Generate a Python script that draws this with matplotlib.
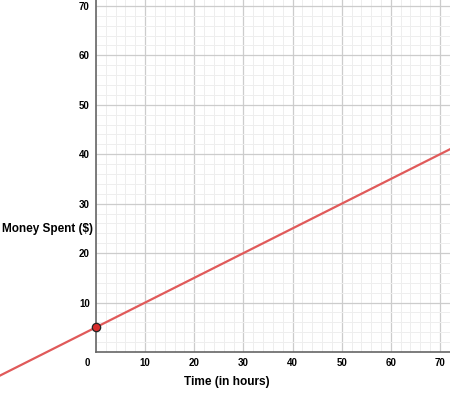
# Money spent over time: y = 0.5x + 5, starting point marked at x = 0

import numpy as np
from matplotlib import pyplot as plt
from matplotlib.ticker import MultipleLocator

plt.rcParams['font.family'] = ['Liberation Sans', 'DejaVu Sans']

# Data
hours = [-20, 75]
money = [-5, 42.5]
start_hour = [0]
start_money = [5]
x_ticks = [10, 20, 30, 40, 50, 60, 70]
y_ticks = [10, 20, 30, 40, 50, 60, 70]

fig = plt.figure(figsize=(4.5, 3.98), dpi=100)
ax = fig.add_axes([96/450, 46/398, 354/450, 352/398])
ax.set_xlim(0, 72.04)
ax.set_ylim(0, 71.2)

# grid: major every 10, minor every 2
ax.xaxis.set_minor_locator(MultipleLocator(2))
ax.yaxis.set_minor_locator(MultipleLocator(2))
ax.set_xticks(x_ticks)
ax.set_yticks(y_ticks)
ax.grid(which='major', color='#cccccc', linewidth=0.9)
ax.grid(which='minor', color='#eeeeee', linewidth=0.7)
ax.set_axisbelow(True)
ax.tick_params(which='both', length=0)
ax.tick_params(axis='x', pad=4)
ax.tick_params(axis='y', pad=4.5)
for lab in ax.get_xticklabels() + ax.get_yticklabels():
    lab.set_fontweight('bold')
    lab.set_fontsize(7)

for side in ['top', 'right']:
    ax.spines[side].set_visible(False)
for side in ['left', 'bottom']:
    ax.spines[side].set_color('#666666')
    ax.spines[side].set_linewidth(1.2)

# origin label
ax.text(-1.8, -1.3, '0', ha='center', va='top', fontsize=7, fontweight='bold')

# line extends outside the grid area
ax.plot(hours, money, color='#e05a5a', linewidth=1.6, clip_on=False, zorder=3)
ax.plot(start_hour, start_money, 'o', color='#d62b2b', markeredgecolor='#222222',
        markersize=6, markeredgewidth=0.9, clip_on=False, zorder=4)

fig.text(227/450, 1 - 382/398, 'Time (in hours)', ha='center', va='center',
         fontsize=8.6, fontweight='bold')
fig.text(2/450, 1 - 229/398, 'Money Spent ($)', ha='left', va='center',
         fontsize=8.5, fontweight='bold')

plt.savefig('out.png', dpi=100)
